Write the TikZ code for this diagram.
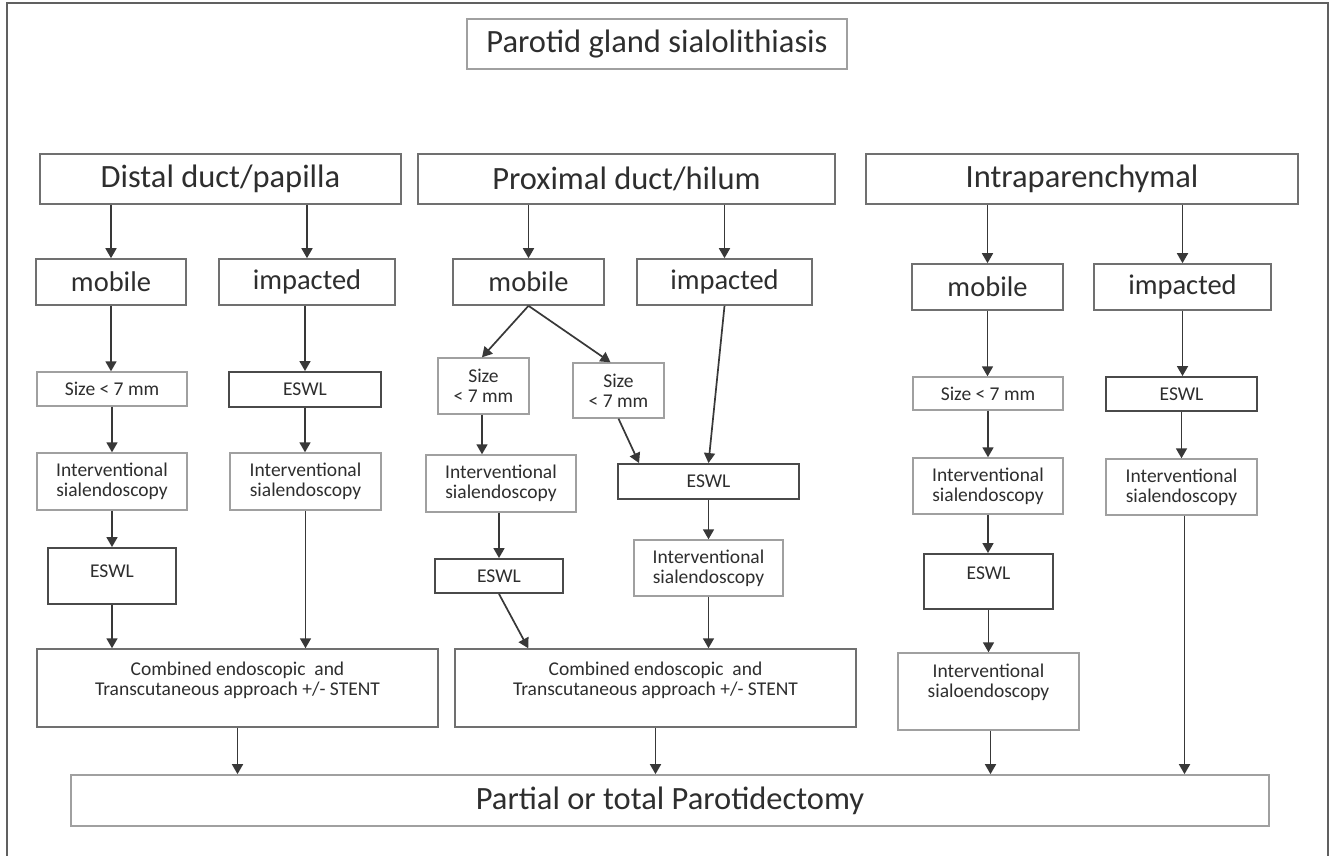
\documentclass[tikz,border=0pt]{standalone}
\usepackage{fontspec}
\setmainfont{Carlito}
\usetikzlibrary{arrows.meta,calc}
\definecolor{txt}{HTML}{2E2E2E}
\definecolor{bxmid}{HTML}{707070}
\definecolor{bxlight}{HTML}{A0A0A0}
\definecolor{bxdark}{HTML}{4A4A4A}
\definecolor{arrc}{HTML}{383838}
\definecolor{framec}{HTML}{606060}
\begin{document}
\begin{tikzpicture}[x=1pt,y=-1pt,
  base/.style={draw, rectangle, inner sep=0pt, align=center, text=txt},
  sz/.style 2 args={minimum width=#1pt, minimum height=#2pt},
  bigbox/.style={base, draw=bxmid, line width=1.6pt, font=\fontsize{32.5}{38}\selectfont},
  titlebox/.style={base, draw=bxlight, line width=1.6pt, font=\fontsize{32.5}{38}\selectfont},
  finalbox/.style={base, draw=bxlight, line width=1.7pt, font=\fontsize{32.5}{38}\selectfont},
  midbox/.style={base, draw=bxmid, line width=1.6pt, font=\fontsize{28.5}{34}\selectfont},
  lightbox/.style={base, draw=bxlight, line width=1.4pt, font=\fontsize{19.5}{20}\selectfont},
  combbox/.style={base, draw=bxmid, line width=1.5pt, font=\fontsize{19.5}{20}\selectfont},
  darkbox/.style={base, draw=bxdark, line width=1.9pt, font=\fontsize{19.5}{20}\selectfont},
  lbl/.style={inner sep=0pt, align=center, text=txt, font=\fontsize{19.5}{20}\selectfont},
  arr/.style={draw=arrc, line width=1.7pt, -{Triangle[width=11pt,length=10pt]}},
  frame/.style={draw=framec, line width=1.6pt}
]
\useasboundingbox (0,0) rectangle (1330,856);
\fill[white] (0,0) rectangle (1330,856);
\draw[frame] (7,856) -- (7,3) -- (1328,3) -- (1328,856);

% title
\node[titlebox, sz={380}{50}] (title) at (657,44) {Parotid gland sialolithiasis};

% level 1
\node[bigbox, sz={361}{50}] (distal) at (220.5,179) {Distal duct/papilla};
\node[bigbox, sz={417}{50}] (prox) at (626.5,179) {Proximal duct/hilum};
\node[bigbox, sz={432}{50}] (intra) at (1082,179) {Intraparenchymal};

% level 2
\node[midbox, sz={150}{46}] (dmob) at (111,282) {mobile};
\node[midbox, sz={176}{46}] (dimp) at (307,282) {impacted};
\node[midbox, sz={151}{46}] (pmob) at (528.5,282) {mobile};
\node[midbox, sz={175}{46}] (pimp) at (724.5,282) {impacted};
\node[midbox, sz={151}{46}] (imob) at (987.5,287) {mobile};
\node[midbox, sz={177}{46}] (iimp) at (1182.5,287) {impacted};

% distal column
\node[lightbox, sz={150}{34}] (dsize) at (112,389) {Size {<} 7 mm};
\node[darkbox, sz={152}{35}] (deswl) at (305,389.5) {ESWL};
\node[lightbox, sz={150}{57}] (dint) at (112,481.5) {Interventional\\sialendoscopy};
\node[lightbox, sz={151}{57}] (dint2) at (305.5,481.5) {Interventional\\sialendoscopy};
\node[darkbox, sz={128}{56}, label={[lbl, yshift=5pt]center:ESWL}] (deswl2) at (112,576) {};
\node[combbox, sz={401}{78}, label={[lbl, yshift=8pt]center:{Combined endoscopic~ and\\Transcutaneous approach +/- STENT}}] (comb1) at (237.5,688) {};

% proximal column
\node[lightbox, sz={91}{56}] (psize1) at (483.5,386) {Size\\{<} 7 mm};
\node[lightbox, sz={91}{55}] (psize2) at (618.5,390.5) {Size\\{<} 7 mm};
\node[lightbox, sz={150}{57}] (pint1) at (501,483.5) {Interventional\\sialendoscopy};
\node[darkbox, sz={128}{34}] (peswl1) at (499,576) {ESWL};
\node[darkbox, sz={181}{35}] (peswl2) at (708.5,481.5) {ESWL};
\node[lightbox, sz={149}{56}] (pint2) at (708.5,568) {Interventional\\sialendoscopy};
\node[combbox, sz={401}{78}, label={[lbl, yshift=8pt]center:{Combined endoscopic~ and\\Transcutaneous approach +/- STENT}}] (comb2) at (655.5,688) {};

% intraparenchymal column
\node[lightbox, sz={150}{33}] (isize) at (988,393.5) {Size {<} 7 mm};
\node[darkbox, sz={151}{34}] (ieswl) at (1181.5,394) {ESWL};
\node[lightbox, sz={150}{56}] (iint1) at (988,486) {Interventional\\sialendoscopy};
\node[lightbox, sz={151}{56}] (iint2) at (1181.5,487) {Interventional\\sialendoscopy};
\node[darkbox, sz={129}{55}, label={[lbl, yshift=8pt]center:ESWL}] (ieswl2) at (988.5,581.5) {};
\node[lightbox, sz={181}{77}, label={[lbl, yshift=9pt]center:{Interventional\\sialoendoscopy}}] (iint3) at (988.5,691.5) {};

% final
\node[finalbox, sz={1198}{51}] (final) at (670,800.5) {Partial or total Parotidectomy};

% arrows level 1 -> level 2
\foreach \a/\b in {distal/dmob, distal/dimp, prox/pmob, prox/pimp, intra/imob, intra/iimp}
  \draw[arr] (\a.south -| \b.north) -- (\b.north);

% distal arrows
\draw[arr] (dmob.south) -- (dmob.south |- dsize.north);
\draw[arr] (deswl.north |- dimp.south) -- (deswl.north);
\draw[arr] (dsize.south) -- (dint.north);
\draw[arr] (deswl.south) -- (deswl.south |- dint2.north);
\draw[arr] (dint.south) -- (deswl2.north);
\draw[arr] (deswl2.south) -- (deswl2.south |- comb1.north);
\draw[arr] (dint2.south) -- (dint2.south |- comb1.north);
\draw[arr] (comb1.south) -- (comb1.south |- final.north);

% proximal arrows
\draw[arr] (pmob.south) -- ([xshift=-1.5pt]psize1.north);
\draw[arr] (pmob.south) -- ([xshift=-8pt]psize2.north);
\draw[arr] ([xshift=-1.5pt]psize1.south) -- ([xshift=-1.5pt]psize1.south |- pint1.north);
\draw[arr] (pint1.south -| peswl1.north) -- (peswl1.north);
\draw[arr] (peswl1.south) -- ([xshift=74pt]comb2.north west);
\draw[arr] (psize2.south) -- ([xshift=22pt]peswl2.north west);
\draw[arr] (pimp.south) -- (peswl2.north);
\draw[arr] (peswl2.south) -- (pint2.north);
\draw[arr] (pint2.south) -- (pint2.south |- comb2.north);
\draw[arr] (comb2.south) -- (comb2.south |- final.north);

% intraparenchymal arrows
\draw[arr] (imob.south) -- (imob.south |- isize.north);
\draw[arr] (iimp.south) -- (iimp.south |- ieswl.north);
\draw[arr] (isize.south) -- (iint1.north);
\draw[arr] (ieswl.south) -- (iint2.north);
\draw[arr] (iint1.south) -- (iint1.south |- ieswl2.north);
\draw[arr] (ieswl2.south) -- (iint3.north);
\draw[arr] ([xshift=2pt]iint3.south) -- ([xshift=2pt]iint3.south |- final.north);
\draw[arr] ([xshift=3pt]iint2.south) -- ([xshift=3pt]iint2.south |- final.north);
\end{tikzpicture}
\end{document}
